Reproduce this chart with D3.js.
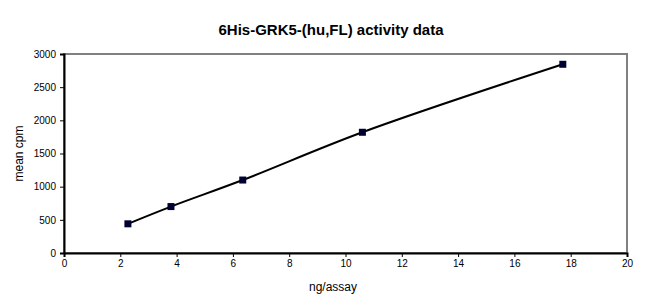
<!DOCTYPE html>
<html>
<head>
<meta charset="utf-8">
<script src="https://cdn.jsdelivr.net/npm/d3@7"></script>
<style>
  body { margin: 0; background: #fff; }
  svg { font-family: Arial, "Liberation Sans", sans-serif; }
</style>
</head>
<body>
<svg id="chart" width="654" height="306"></svg>
<script>
// data
var ngAssay = [2.27, 3.8, 6.35, 10.6, 17.72];
var meanCpm = [440, 700, 1100, 1820, 2845];
var xTicks = [0, 2, 4, 6, 8, 10, 12, 14, 16, 18, 20];
var yTicks = [0, 500, 1000, 1500, 2000, 2500, 3000];

var svg = d3.select("#chart");
var plotLeft = 64, plotRight = 627, plotTop = 54, plotBottom = 253;

var xScale = d3.scaleLinear().domain([0, 20]).range([plotLeft, plotRight]);
var yScale = d3.scaleLinear().domain([0, 3000]).range([plotBottom, plotTop]);

// plot area border (grey, excel style)
svg.append("rect")
   .attr("x", plotLeft).attr("y", plotTop)
   .attr("width", plotRight - plotLeft).attr("height", plotBottom - plotTop)
   .attr("fill", "none")
   .attr("stroke", "#808080")
   .attr("stroke-width", 2);

var xAxis = d3.axisBottom(xScale).tickValues(xTicks).tickSize(4).tickPadding(3).tickFormat(d3.format("d"));
var yAxis = d3.axisLeft(yScale).tickValues(yTicks).tickSize(4).tickPadding(4).tickFormat(d3.format("d"));

var gx = svg.append("g")
   .attr("transform", "translate(0," + plotBottom + ")")
   .call(xAxis);
var gy = svg.append("g")
   .attr("transform", "translate(" + plotLeft + ",0)")
   .call(yAxis);

[gx, gy].forEach(function(g) {
   g.select(".domain").attr("stroke", "#000").attr("stroke-width", 2);
   g.selectAll(".tick line").attr("stroke", "#000");
   g.selectAll(".tick text").attr("fill", "#000").style("font-size", "10px");
});

var points = ngAssay.map(function(x, i) { return { x: x, y: meanCpm[i] }; });

var line = d3.line()
   .x(d => xScale(d.x))
   .y(d => yScale(d.y))
   .curve(d3.curveCatmullRom.alpha(0.5));

svg.append("path")
   .datum(points)
   .attr("d", line)
   .attr("fill", "none")
   .attr("stroke", "#000")
   .attr("stroke-width", 2);

svg.selectAll("rect.pt")
   .data(points)
   .join("rect")
   .attr("class", "pt")
   .attr("x", d => xScale(d.x) - 3.5)
   .attr("y", d => yScale(d.y) - 3.5)
   .attr("width", 7)
   .attr("height", 7)
   .attr("fill", "#000033");

svg.append("text")
   .attr("x", 331).attr("y", 35)
   .attr("text-anchor", "middle")
   .style("font-size", "15px")
   .style("font-weight", "bold")
   .text("6His-GRK5-(hu,FL) activity data");

svg.append("text")
   .attr("x", 333).attr("y", 291)
   .attr("text-anchor", "middle")
   .style("font-size", "12px")
   .text("ng/assay");

svg.append("text")
   .attr("transform", "translate(23," + ((plotTop + plotBottom) / 2) + ") rotate(-90)")
   .attr("text-anchor", "middle")
   .style("font-size", "12px")
   .text("mean cpm");
</script>
</body>
</html>
